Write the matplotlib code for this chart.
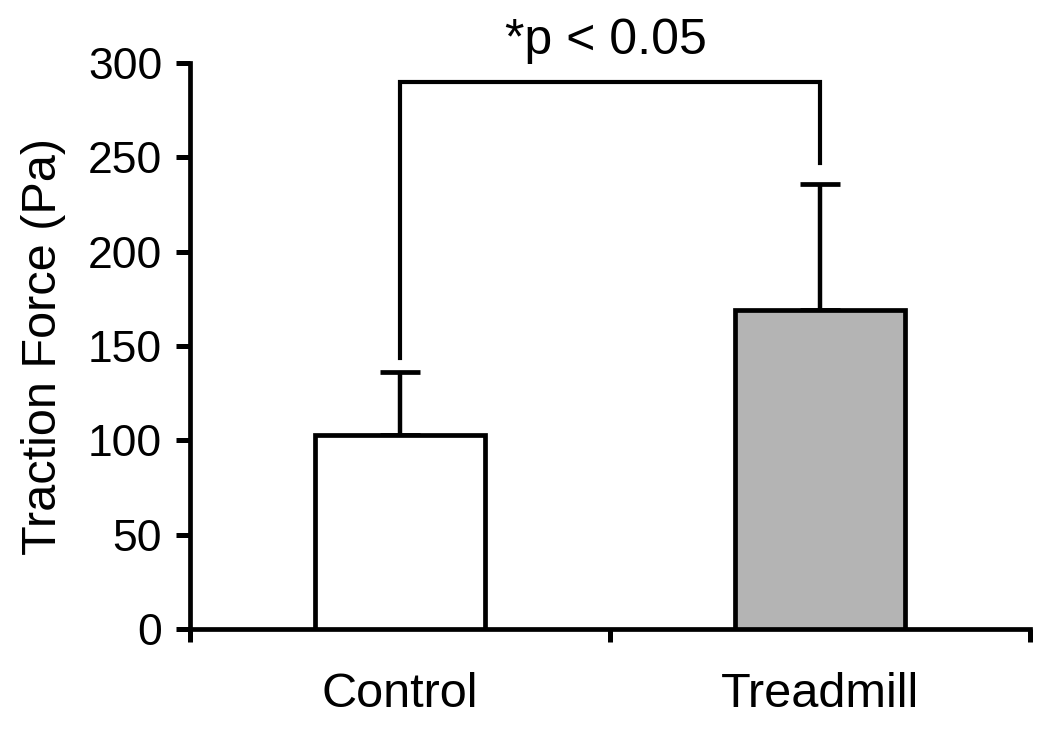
import matplotlib
matplotlib.use("Agg")
import matplotlib.pyplot as plt
from matplotlib.ticker import FixedLocator

plt.rcParams['font.family'] = ['Liberation Sans', 'DejaVu Sans']

categories = ["Control", "Treadmill"]
means = [103, 169]
errors = [33, 67]
colors = ["white", "#b4b4b4"]
yticks = [0, 50, 100, 150, 200, 250, 300]
bracket_y = [143.5, 290, 290, 247]
sig_text = "*p < 0.05"

fig = plt.figure(figsize=(10.5, 7.34), dpi=100)
ax = fig.add_axes([190/1050, 1-629/734, 840/1050, 566/734])

x = list(range(len(categories)))
ax.bar(x, means, width=0.405, color=colors, edgecolor="black", linewidth=3.4, zorder=3)
ax.errorbar(x, means, yerr=[[0]*len(errors), errors], fmt="none", ecolor="black",
            elinewidth=3.2, capsize=14.5, capthick=3.4, zorder=2)

# significance bracket
ax.plot([x[0], x[0], x[1], x[1]], bracket_y, color="black", lw=3.0,
        solid_joinstyle="miter", clip_on=False)
ax.text((x[0]+x[1])/2 - 0.01, 305, sig_text, ha="center", va="baseline", fontsize=36, clip_on=False)

ax.set_xlim(-0.5, 1.5)
ax.set_ylim(0, 300)
ax.set_yticks(yticks)
ax.set_xticks(x)
ax.set_xticklabels(categories, fontsize=35)
ax.xaxis.set_minor_locator(FixedLocator([-0.5, 0.5, 1.5]))
ax.tick_params(axis="x", which="major", length=0, pad=31)
ax.tick_params(axis="x", which="minor", length=9.5, width=3.6, direction="out")
ax.tick_params(axis="y", labelsize=32, length=10, width=3.6, direction="out", pad=10)

for s in ["top", "right"]:
    ax.spines[s].set_visible(False)
for s in ["left", "bottom"]:
    ax.spines[s].set_linewidth(3.4)

ax.set_ylabel("Traction Force (Pa)", fontsize=35, labelpad=16)

fig.savefig("out.png", dpi=100)
